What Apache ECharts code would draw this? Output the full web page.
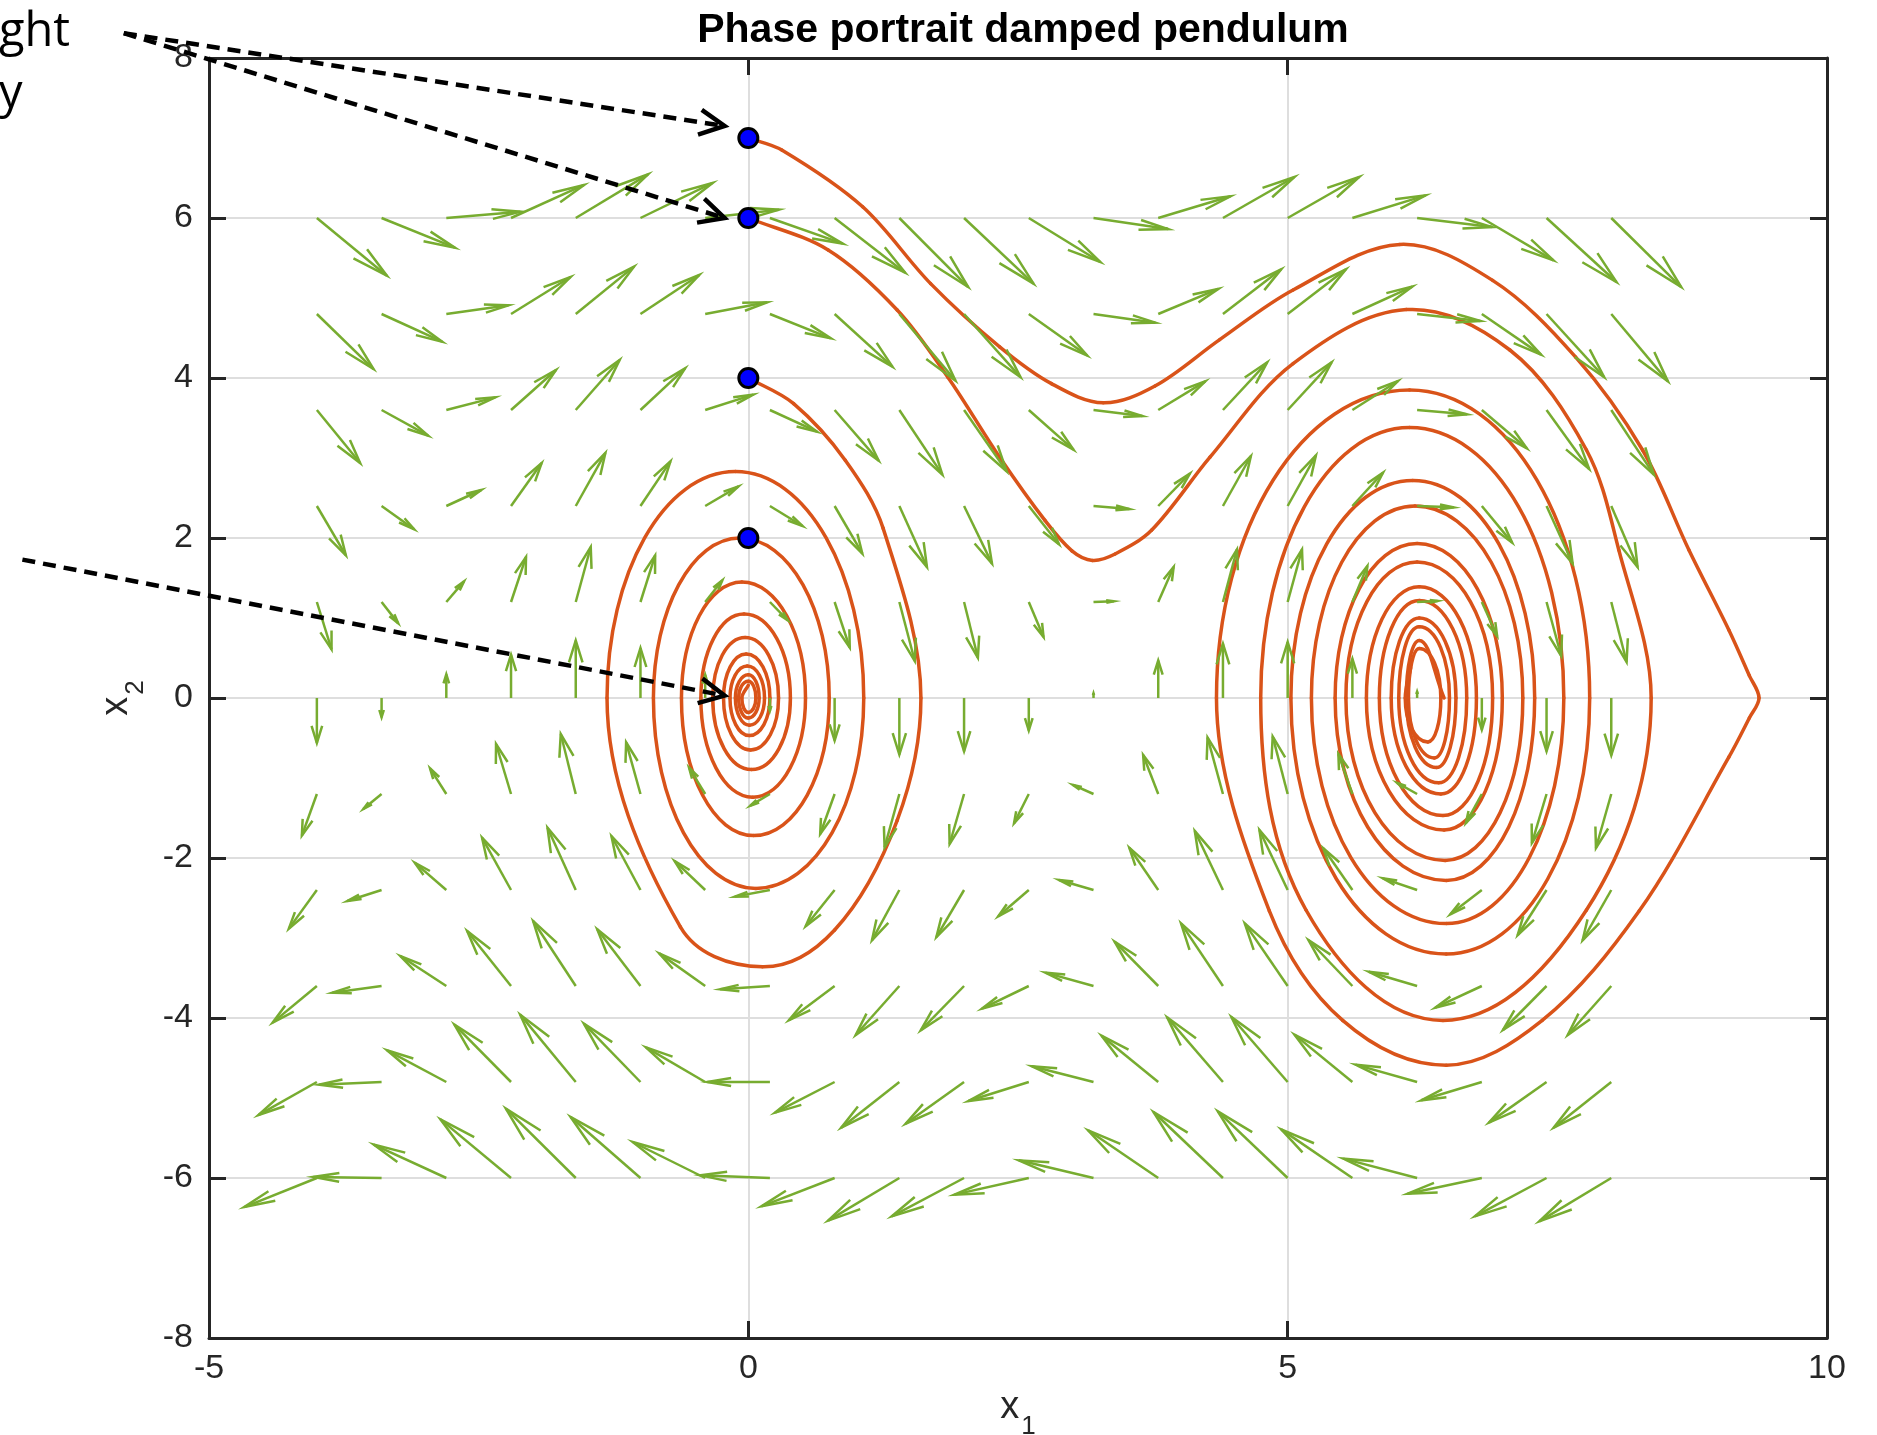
<!DOCTYPE html>
<html>
<head>
<meta charset="utf-8">
<title>Phase portrait damped pendulum</title>
<style>
  html, body { margin: 0; padding: 0; background: #fff; }
  #chart { width: 1877px; height: 1435px; }
</style>
</head>
<body>
<div id="chart"></div>
<script src="https://cdn.jsdelivr.net/npm/echarts@6.0.0/dist/echarts.min.js"></script>
<script>
// quiver grid (tails) and the drawn arrow components
var XS = [-4, -3.4, -2.8, -2.2, -1.6, -1, -0.4, 0.2, 0.8, 1.4, 2, 2.6, 3.2, 3.8, 4.4, 5, 5.6, 6.2, 6.8, 7.4, 8];
var YS = [6, 4.8, 3.6, 2.4, 1.2, 0, -1.2, -2.4, -3.6, -4.8, -6];

var U = [
  [0.649, 0.680, 0.686, 0.677, 0.671, 0.670, 0.685, 0.676, 0.654, 0.638, 0.644, 0.663, 0.692, 0.670, 0.664, 0.664, 0.679, 0.694, 0.664, 0.648, 0.648],
  [0.525, 0.562, 0.577, 0.552, 0.540, 0.546, 0.574, 0.564, 0.536, 0.520, 0.523, 0.542, 0.574, 0.558, 0.540, 0.540, 0.556, 0.586, 0.549, 0.534, 0.525],
  [0.401, 0.432, 0.454, 0.417, 0.407, 0.414, 0.446, 0.437, 0.408, 0.399, 0.395, 0.415, 0.453, 0.437, 0.410, 0.407, 0.423, 0.463, 0.417, 0.395, 0.395],
  [0.269, 0.302, 0.324, 0.284, 0.275, 0.278, 0.309, 0.303, 0.257, 0.256, 0.259, 0.280, 0.332, 0.293, 0.259, 0.262, 0.284, 0.340, 0.281, 0.242, 0.244],
  [0.136, 0.154, 0.164, 0.139, 0.139, 0.136, 0.159, 0.166, 0.140, 0.143, 0.128, 0.137, 0.190, 0.143, 0.130, 0.133, 0.139, 0.190, 0.142, 0.136, 0.142],
  [0, 0, 0, 0, 0, 0, 0, 0, 0, 0, 0, 0, 0, 0, 0, 0, 0, 0, 0, 0, 0],
  [-0.139, -0.170, -0.151, -0.139, -0.139, -0.133, -0.150, -0.182, -0.134, -0.137, -0.134, -0.137, -0.191, -0.140, -0.143, -0.139, -0.130, -0.185, -0.148, -0.136, -0.142],
  [-0.260, -0.318, -0.293, -0.269, -0.262, -0.269, -0.284, -0.325, -0.269, -0.254, -0.257, -0.283, -0.319, -0.268, -0.261, -0.262, -0.269, -0.318, -0.293, -0.268, -0.266],
  [-0.410, -0.457, -0.426, -0.407, -0.395, -0.401, -0.426, -0.462, -0.424, -0.405, -0.402, -0.434, -0.446, -0.405, -0.389, -0.398, -0.407, -0.448, -0.432, -0.404, -0.404],
  [-0.543, -0.580, -0.549, -0.525, -0.515, -0.525, -0.549, -0.580, -0.552, -0.539, -0.542, -0.561, -0.571, -0.526, -0.517, -0.522, -0.537, -0.571, -0.562, -0.534, -0.534],
  [-0.673, -0.633, -0.673, -0.654, -0.648, -0.648, -0.673, -0.644, -0.679, -0.660, -0.670, -0.689, -0.692, -0.650, -0.644, -0.648, -0.660, -0.685, -0.688, -0.664, -0.667]
];

var V = [
  [-0.721, -0.371, 0.079, 0.413, 0.546, 0.438, 0.104, -0.320, -0.683, -0.863, -0.820, -0.550, -0.138, 0.271, 0.513, 0.513, 0.283, -0.113, -0.529, -0.800, -0.863],
  [-0.688, -0.346, 0.108, 0.463, 0.592, 0.488, 0.146, -0.304, -0.658, -0.833, -0.790, -0.520, -0.108, 0.313, 0.558, 0.558, 0.342, -0.088, -0.508, -0.790, -0.842],
  [-0.663, -0.321, 0.158, 0.500, 0.625, 0.521, 0.192, -0.271, -0.633, -0.808, -0.767, -0.496, -0.075, 0.358, 0.596, 0.596, 0.363, -0.054, -0.479, -0.738, -0.808],
  [-0.616, -0.290, 0.200, 0.538, 0.663, 0.558, 0.246, -0.250, -0.595, -0.763, -0.720, -0.479, -0.038, 0.404, 0.625, 0.633, 0.417, -0.017, -0.458, -0.720, -0.763],
  [-0.592, -0.267, 0.258, 0.563, 0.688, 0.583, 0.271, -0.229, -0.571, -0.738, -0.696, -0.438, 0.010, 0.438, 0.658, 0.658, 0.450, 0.013, -0.425, -0.675, -0.750],
  [-0.563, -0.242, 0.296, 0.542, 0.720, 0.625, 0.290, -0.160, -0.533, -0.708, -0.667, -0.408, 0.060, 0.470, 0.679, 0.700, 0.490, 0.080, -0.396, -0.667, -0.717],
  [-0.521, -0.188, 0.321, 0.625, 0.750, 0.646, 0.330, -0.146, -0.500, -0.667, -0.625, -0.367, 0.113, 0.488, 0.708, 0.720, 0.500, 0.138, -0.363, -0.613, -0.675],
  [-0.483, -0.138, 0.342, 0.654, 0.779, 0.675, 0.363, -0.083, -0.454, -0.629, -0.588, -0.329, 0.125, 0.529, 0.738, 0.750, 0.521, 0.146, -0.304, -0.566, -0.629],
  [-0.458, -0.083, 0.375, 0.688, 0.813, 0.708, 0.408, -0.042, -0.429, -0.613, -0.554, -0.283, 0.167, 0.554, 0.783, 0.783, 0.575, 0.179, -0.271, -0.550, -0.613],
  [-0.413, -0.033, 0.396, 0.717, 0.842, 0.729, 0.433, 0, -0.383, -0.571, -0.521, -0.238, 0.196, 0.579, 0.808, 0.813, 0.592, 0.217, -0.229, -0.508, -0.571],
  [-0.363, 0.013, 0.417, 0.733, 0.867, 0.763, 0.450, 0.033, -0.354, -0.533, -0.479, -0.208, 0.221, 0.596, 0.825, 0.833, 0.608, 0.242, -0.196, -0.479, -0.542]
];

// trajectories (x1, x2), from the starts at (0,7), (0,6) and (0,4)
var trajA = [
  [0, 7], [0.31, 6.85], [1.06, 6.14], [1.69, 5.18], [2.33, 4.39], [2.81, 3.93], [3.29, 3.69], [3.77, 3.90],
  [4.37, 4.48], [5.05, 5.10], [6.04, 5.67], [6.90, 5.22], [7.67, 4.26], [8.29, 3.10], [8.72, 1.85], [9.09, 0.85],
  [9.28, 0.28], [9.37, 0], [9.28, -0.25], [9.09, -0.74], [8.26, -2.66], [7.36, -4.03], [6.47, -4.59], [5.51, -4.03],
  [4.83, -2.66], [4.34, 0], [6.13, 3.85], [7.80, 0], [6.47, -3.20], [5.03, 0], [6.16, 2.72], [7.29, 0],
  [6.47, -2.28], [5.44, 0], [6.20, 1.93], [6.99, 0], [6.45, -1.65], [5.73, 0], [6.22, 1.39], [6.75, 0],
  [6.42, -1.20], [5.96, 0], [6.22, 1.00], [6.56, 0], [6.38, -0.87], [6.10, 0], [6.22, 0.72], [6.45, 0]
];
var trajB = [
  [0, 6], [0.74, 5.60], [1.38, 4.85], [1.85, 4.01], [2.33, 3.01], [2.75, 2.22], [3.00, 1.84], [3.19, 1.72],
  [3.40, 1.80], [3.74, 2.10], [4.28, 3.01], [5.05, 4.18], [6.10, 4.855], [7.06, 4.35], [7.77, 3.10], [8.07, 1.85],
  [8.37, 0], [7.77, -2.65], [6.44, -4.03], [5.17, -2.65], [4.75, 0], [6.13, 3.38], [7.56, 0], [6.47, -2.82],
  [5.22, 0], [6.18, 2.40], [7.18, 0], [6.46, -2.03], [5.54, 0], [6.20, 1.70], [6.90, 0], [6.44, -1.47],
  [5.85, 0], [6.22, 1.22], [6.66, 0], [6.40, -1.06], [6.03, 0], [6.22, 0.89], [6.50, 0], [6.36, -0.75],
  [6.12, 0], [6.22, 0.62], [6.42, 0], [6.30, -0.55], [6.09, 0], [6.14, 0.38]
];
var trajC = [
  [0, 4], [0.42, 3.68], [0.90, 2.97], [1.25, 2.12], [1.60, 0], [1.38, -1.53], [0.80, -2.90], [0.13, -3.36],
  [-0.63, -2.86], [-1.31, 0], [-0.12, 2.83], [1.07, 0], [0.07, -2.38], [-0.88, 0], [-0.08, 2.00], [0.75, 0],
  [0.05, -1.72], [-0.62, 0], [-0.06, 1.45], [0.53, 0], [0.04, -1.24], [-0.44, 0], [-0.04, 1.05], [0.39, 0],
  [0.03, -0.895], [-0.33, 0], [-0.03, 0.755], [0.28, 0], [0.02, -0.65], [-0.23, 0], [-0.02, 0.55], [0.20, 0],
  [0.01, -0.47], [-0.17, 0], [-0.01, 0.40], [0.15, 0], [0.01, -0.34], [-0.12, 0], [0, 0.29], [0.10, 0],
  [0, -0.25], [-0.09, 0], [0, 0.21], [0.07, 0], [0, -0.18], [-0.06, 0], [0, 0.16]
];

// initial conditions
var startX = [0, 0, 0, 0];
var startY = [7, 6, 4, 2];

// dashed call-out arrows (from -> to), in axis units
var noteFrom = [[-5.79, 8.31], [-5.79, 8.31], [-6.73, 1.73]];
var noteTo = [[-0.22, 7.15], [-0.22, 6.0], [-0.22, 0.03]];

var GREEN = '#77AC30';
var ORANGE = '#D95319';
var AXIS = '#262626';
var FONT = '"Liberation Sans", Arial, Helvetica, sans-serif';
var NOTE_FONT = '"Open Sans", "Noto Sans", sans-serif';

var quiverData = [];
for (var i = 0; i < YS.length; i++) {
  for (var j = 0; j < XS.length; j++) {
    quiverData.push([XS[j], YS[i], U[i][j], V[i][j]]);
  }
}
var startData = startX.map(function (x, k) { return [x, startY[k]]; });
var noteData = noteFrom.map(function (p, k) { return [p[0], p[1], noteTo[k][0], noteTo[k][1]]; });

// matlab style quiver head, built in axis units
var HEAD_A = 0.38, HEAD_B = 0.23;
function renderQuiver(params, api) {
  var x = api.value(0), y = api.value(1), u = api.value(2), v = api.value(3);
  var p0 = api.coord([x, y]);
  var p1 = api.coord([x + u, y + v]);
  var h1 = api.coord([x + u - HEAD_A * (u + HEAD_B * v), y + v - HEAD_A * (v - HEAD_B * u)]);
  var h2 = api.coord([x + u - HEAD_A * (u - HEAD_B * v), y + v - HEAD_A * (v + HEAD_B * u)]);
  var st = { stroke: GREEN, lineWidth: 2.5, fill: null };
  return {
    type: 'group',
    children: [
      { type: 'line', shape: { x1: p0[0], y1: p0[1], x2: p1[0], y2: p1[1] }, style: st },
      { type: 'polyline', shape: { points: [h1, p1, h2] }, style: st }
    ]
  };
}

// smooth curve through the read points; where x2 = 0 the orbit turns, so the tangent is vertical
function tangent(a, b, c, turning) {
  var vx = c[0] - a[0], vy = c[1] - a[1];
  if (turning) vx = 0;
  var len = Math.sqrt(vx * vx + vy * vy) || 1;
  return [vx / len, vy / len];
}
function trajRenderer(pts) {
  var n = pts.length;
  return function (params, api) {
    var k = params.dataIndex;
    if (k >= n - 1) return null;
    var P = function (m) { return api.coord(pts[Math.max(0, Math.min(n - 1, m))]); };
    var pa = P(k - 1), pb = P(k), pc = P(k + 1), pd = P(k + 2);
    var t1 = tangent(pa, pb, pc, pts[k][1] === 0 && k > 0);
    var t2 = tangent(pb, pc, pd, pts[k + 1][1] === 0 && k + 1 < n - 1);
    var cx = pc[0] - pb[0], cy = pc[1] - pb[1];
    // arc-like control lengths: 1/3 for straight pieces, 0.552 for quarter turns
    var th = Math.acos(Math.max(-1, Math.min(1, t1[0] * t2[0] + t1[1] * t2[1])));
    th = Math.min(th, 2.0);
    var kk = th < 0.01 ? 1 / 3 : (4 / 3) * Math.tan(th / 4) / Math.sin(th);
    var l1 = kk * Math.abs(cx * t1[0] + cy * t1[1]);
    var l2 = kk * Math.abs(cx * t2[0] + cy * t2[1]);
    return {
      type: 'bezierCurve',
      shape: {
        x1: pb[0], y1: pb[1], x2: pc[0], y2: pc[1],
        cpx1: pb[0] + t1[0] * l1, cpy1: pb[1] + t1[1] * l1,
        cpx2: pc[0] - t2[0] * l2, cpy2: pc[1] - t2[1] * l2
      },
      style: { stroke: ORANGE, lineWidth: 3.5, fill: null, lineCap: 'round' }
    };
  };
}
function trajSeries(pts) {
  return {
    type: 'custom',
    renderItem: trajRenderer(pts),
    data: pts,
    encode: { x: 0, y: 1 },
    z: 2,
    silent: true
  };
}

function renderNote(params, api) {
  var p0 = api.coord([api.value(0), api.value(1)]);
  var p1 = api.coord([api.value(2), api.value(3)]);
  var dx = p1[0] - p0[0], dy = p1[1] - p0[1];
  var len = Math.sqrt(dx * dx + dy * dy);
  var ux = dx / len, uy = dy / len;
  var hl = 25, hw = 12.5;
  var b1 = [p1[0] - ux * hl - uy * hw, p1[1] - uy * hl + ux * hw];
  var b2 = [p1[0] - ux * hl + uy * hw, p1[1] - uy * hl - ux * hw];
  return {
    type: 'group',
    children: [
      { type: 'line', shape: { x1: p0[0], y1: p0[1], x2: p1[0] - ux * 4, y2: p1[1] - uy * 4 },
        style: { stroke: '#000', lineWidth: 4.5, lineDash: [13, 8] } },
      { type: 'polyline', shape: { points: [b1, p1, b2] },
        style: { stroke: '#000', lineWidth: 4.5, fill: null } }
    ]
  };
}

var axisLineStyle = { color: AXIS, width: 3 };
var labelStyle = { fontSize: 34, color: AXIS, fontFamily: FONT };
var nameStyle = {
  color: AXIS,
  fontFamily: FONT,
  rich: {
    b: { fontSize: 38, lineHeight: 40, color: AXIS, fontFamily: FONT, verticalAlign: 'top' },
    s: { fontSize: 26, lineHeight: 28, color: AXIS, fontFamily: FONT, verticalAlign: 'top', padding: [25, 0, 0, 2] }
  }
};

var chart = echarts.init(document.getElementById('chart'));
var option = {
  animation: false,
  backgroundColor: '#fff',
  title: {
    text: 'Phase portrait damped pendulum',
    left: 1018,
    textAlign: 'center',
    top: 5,
    textStyle: { fontSize: 41, fontWeight: 'bold', color: '#000', fontFamily: FONT }
  },
  grid: { left: 209, right: 50, top: 58, bottom: 97, outerBoundsMode: 'none' },
  xAxis: [{
    type: 'value', min: -5, max: 10, interval: 5, position: 'bottom',
    axisLine: { show: true, onZero: false, lineStyle: axisLineStyle },
    axisTick: { show: true, inside: true, length: 17, lineStyle: axisLineStyle },
    axisLabel: Object.assign({ margin: 14 }, labelStyle),
    splitLine: { show: true, lineStyle: { color: '#dedede', width: 2 } },
    name: '{b|x}{s|1}', nameLocation: 'middle', nameGap: 51, nameMoveOverlap: false,
    nameTextStyle: nameStyle
  }, {
    type: 'value', min: -5, max: 10, interval: 5, position: 'top',
    axisLine: { show: true, onZero: false, lineStyle: axisLineStyle },
    axisTick: { show: true, inside: true, length: 17, lineStyle: axisLineStyle },
    axisLabel: { show: false }, splitLine: { show: false }
  }],
  yAxis: [{
    type: 'value', min: -8, max: 8, interval: 2, position: 'left',
    axisLine: { show: true, onZero: false, lineStyle: axisLineStyle },
    axisTick: { show: true, inside: true, length: 17, lineStyle: axisLineStyle },
    axisLabel: Object.assign({ margin: 16 }, labelStyle),
    splitLine: { show: true, lineStyle: { color: '#dedede', width: 2 } },
    name: '{b|x}{s|2}', nameLocation: 'middle', nameGap: 71, nameMoveOverlap: false,
    nameTextStyle: nameStyle
  }, {
    type: 'value', min: -8, max: 8, interval: 2, position: 'right',
    axisLine: { show: true, onZero: false, lineStyle: axisLineStyle },
    axisTick: { show: true, inside: true, length: 17, lineStyle: axisLineStyle },
    axisLabel: { show: false }, splitLine: { show: false }
  }],
  graphic: [
    { type: 'text', x: -1, y: 9, style: { text: 'ght', fontSize: 47, fontFamily: NOTE_FONT, fill: '#000' } },
    { type: 'text', x: -1, y: 71, style: { text: 'y', fontSize: 47, fontFamily: NOTE_FONT, fill: '#000' } }
  ],
  series: [
    trajSeries(trajA),
    trajSeries(trajB),
    trajSeries(trajC),
    {
      type: 'custom',
      renderItem: renderQuiver,
      data: quiverData,
      encode: { x: 0, y: 1 },
      z: 3,
      silent: true
    },
    {
      type: 'scatter',
      data: startData,
      symbol: 'circle',
      symbolSize: 19,
      z: 4,
      itemStyle: { color: '#0000ff', borderColor: '#000', borderWidth: 3, opacity: 1 }
    },
    {
      type: 'custom',
      renderItem: renderNote,
      data: noteData,
      encode: { x: [0, 2], y: [1, 3] },
      clip: false,
      z: 5,
      silent: true
    }
  ]
};
chart.setOption(option);
</script>
</body>
</html>
